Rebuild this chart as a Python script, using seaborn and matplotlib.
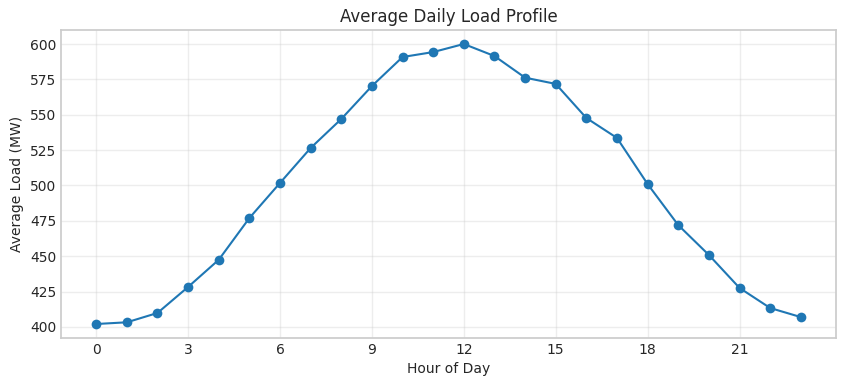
import matplotlib
matplotlib.use("Agg")
import matplotlib.pyplot as plt
import seaborn as sns
import pandas as pd

hours = list(range(24))
load_mw = [402.1, 403.3, 409.9, 428.3, 447.5, 477.0, 501.8, 526.5, 547.0, 570.3,
           590.8, 594.3, 600.0, 591.5, 576.2, 571.8, 547.7, 533.6, 501.0, 472.0,
           450.9, 427.6, 413.4, 407.0]
xticks = [0, 3, 6, 9, 12, 15, 18, 21]

sns.set_theme(style="whitegrid")
plt.rcParams['font.family'] = ['DejaVu Sans']

df = pd.DataFrame({"hour": hours, "load": load_mw})
fig, ax = plt.subplots(figsize=(8.46, 3.86), dpi=100)
sns.lineplot(data=df, x="hour", y="load", marker="o", color="#1f77b4",
             markersize=7, markeredgewidth=0, linewidth=1.5, ax=ax)
ax.set_xticks(xticks)
ax.grid(True, alpha=0.35)
ax.set_title("Average Daily Load Profile", fontsize=12)
ax.set_xlabel("Hour of Day", fontsize=10)
ax.set_ylabel("Average Load (MW)", fontsize=10)
ax.tick_params(labelsize=10, pad=3.5, length=0)
fig.subplots_adjust(left=61/846, right=836/846, top=1-30/386, bottom=1-338/386)
fig.savefig("out.png", dpi=100)
